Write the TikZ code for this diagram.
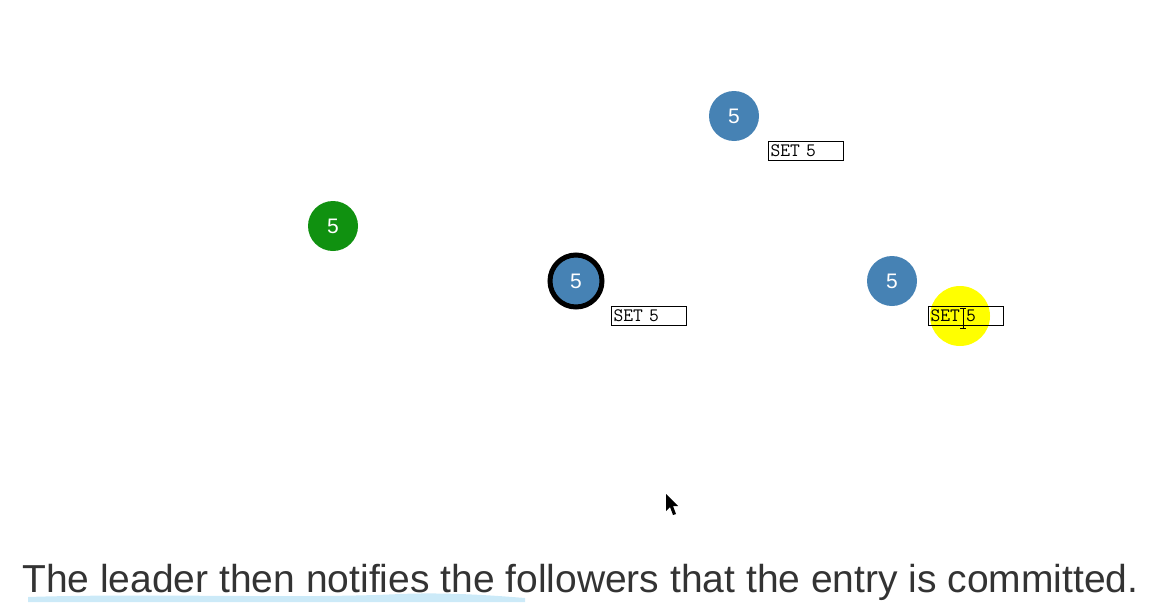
\documentclass[tikz,border=0pt]{standalone}
\usepackage{fontspec}
\setmainfont{Liberation Sans}
\definecolor{nodeblue}{RGB}{70,130,180}
\definecolor{clientgreen}{RGB}{16,145,16}
\definecolor{captiongray}{RGB}{51,51,51}
\definecolor{clickyellow}{RGB}{255,255,0}
\definecolor{waveblue}{RGB}{204,234,248}

\begin{document}
\begin{tikzpicture}[x=1pt,y=-1pt,
    server/.style={circle,fill=nodeblue,minimum size=50pt,inner sep=0pt,
        text=white,font=\fontsize{21}{21}\selectfont},
    client/.style={server,fill=clientgreen},
    leader/.style={server,draw=black,line width=5pt,minimum size=52pt},
    logbox/.style={draw=black,line width=1pt,fill=none,anchor=north west,
        text width=71pt,minimum height=19pt,inner sep=2pt,
        font=\ttfamily\fontsize{19}{19}\selectfont}]
    \useasboundingbox (0,0) rectangle (1150,602);
    \clip (0,0) rectangle (1150,602);

    % click highlight and strip below the caption
    \fill[clickyellow] (960,316) circle (30);
    \fill[waveblue] (28,602) -- (28,597) .. controls (150,593) and (300,599) .. (400,594)
        .. controls (450,592) and (500,596) .. (525,598) -- (525,602) -- cycle;

    \node[client] (client) at (333,226) {5};
    \node[leader] (leader) at (576,281) {5};
    \node[server] (f1) at (734,116) {5};
    \node[server] (f2) at (892,281) {5};

    \node[logbox] (log1) at (768,141) {SET 5};
    \node[logbox] (logleader) at (611,306) {SET 5};
    \node[logbox] (log2) at (928,306) {SET 5};

    % cursors
    \draw[black,line width=1pt] (963,308) -- (963,328)
        (960,308) -- (966,308) (960,328) -- (966,328);
    \fill[black] (666,494) -- (666,511) -- (670,507) -- (673,515) -- (676,514)
        -- (673,506) -- (678,506) -- cycle;

    \node[anchor=base west,inner sep=0pt,text=captiongray,
        font=\fontsize{39}{39}\selectfont] (caption) at (22,592)
        {The leader then notifies the followers that the entry is committed.};
\end{tikzpicture}
\end{document}
